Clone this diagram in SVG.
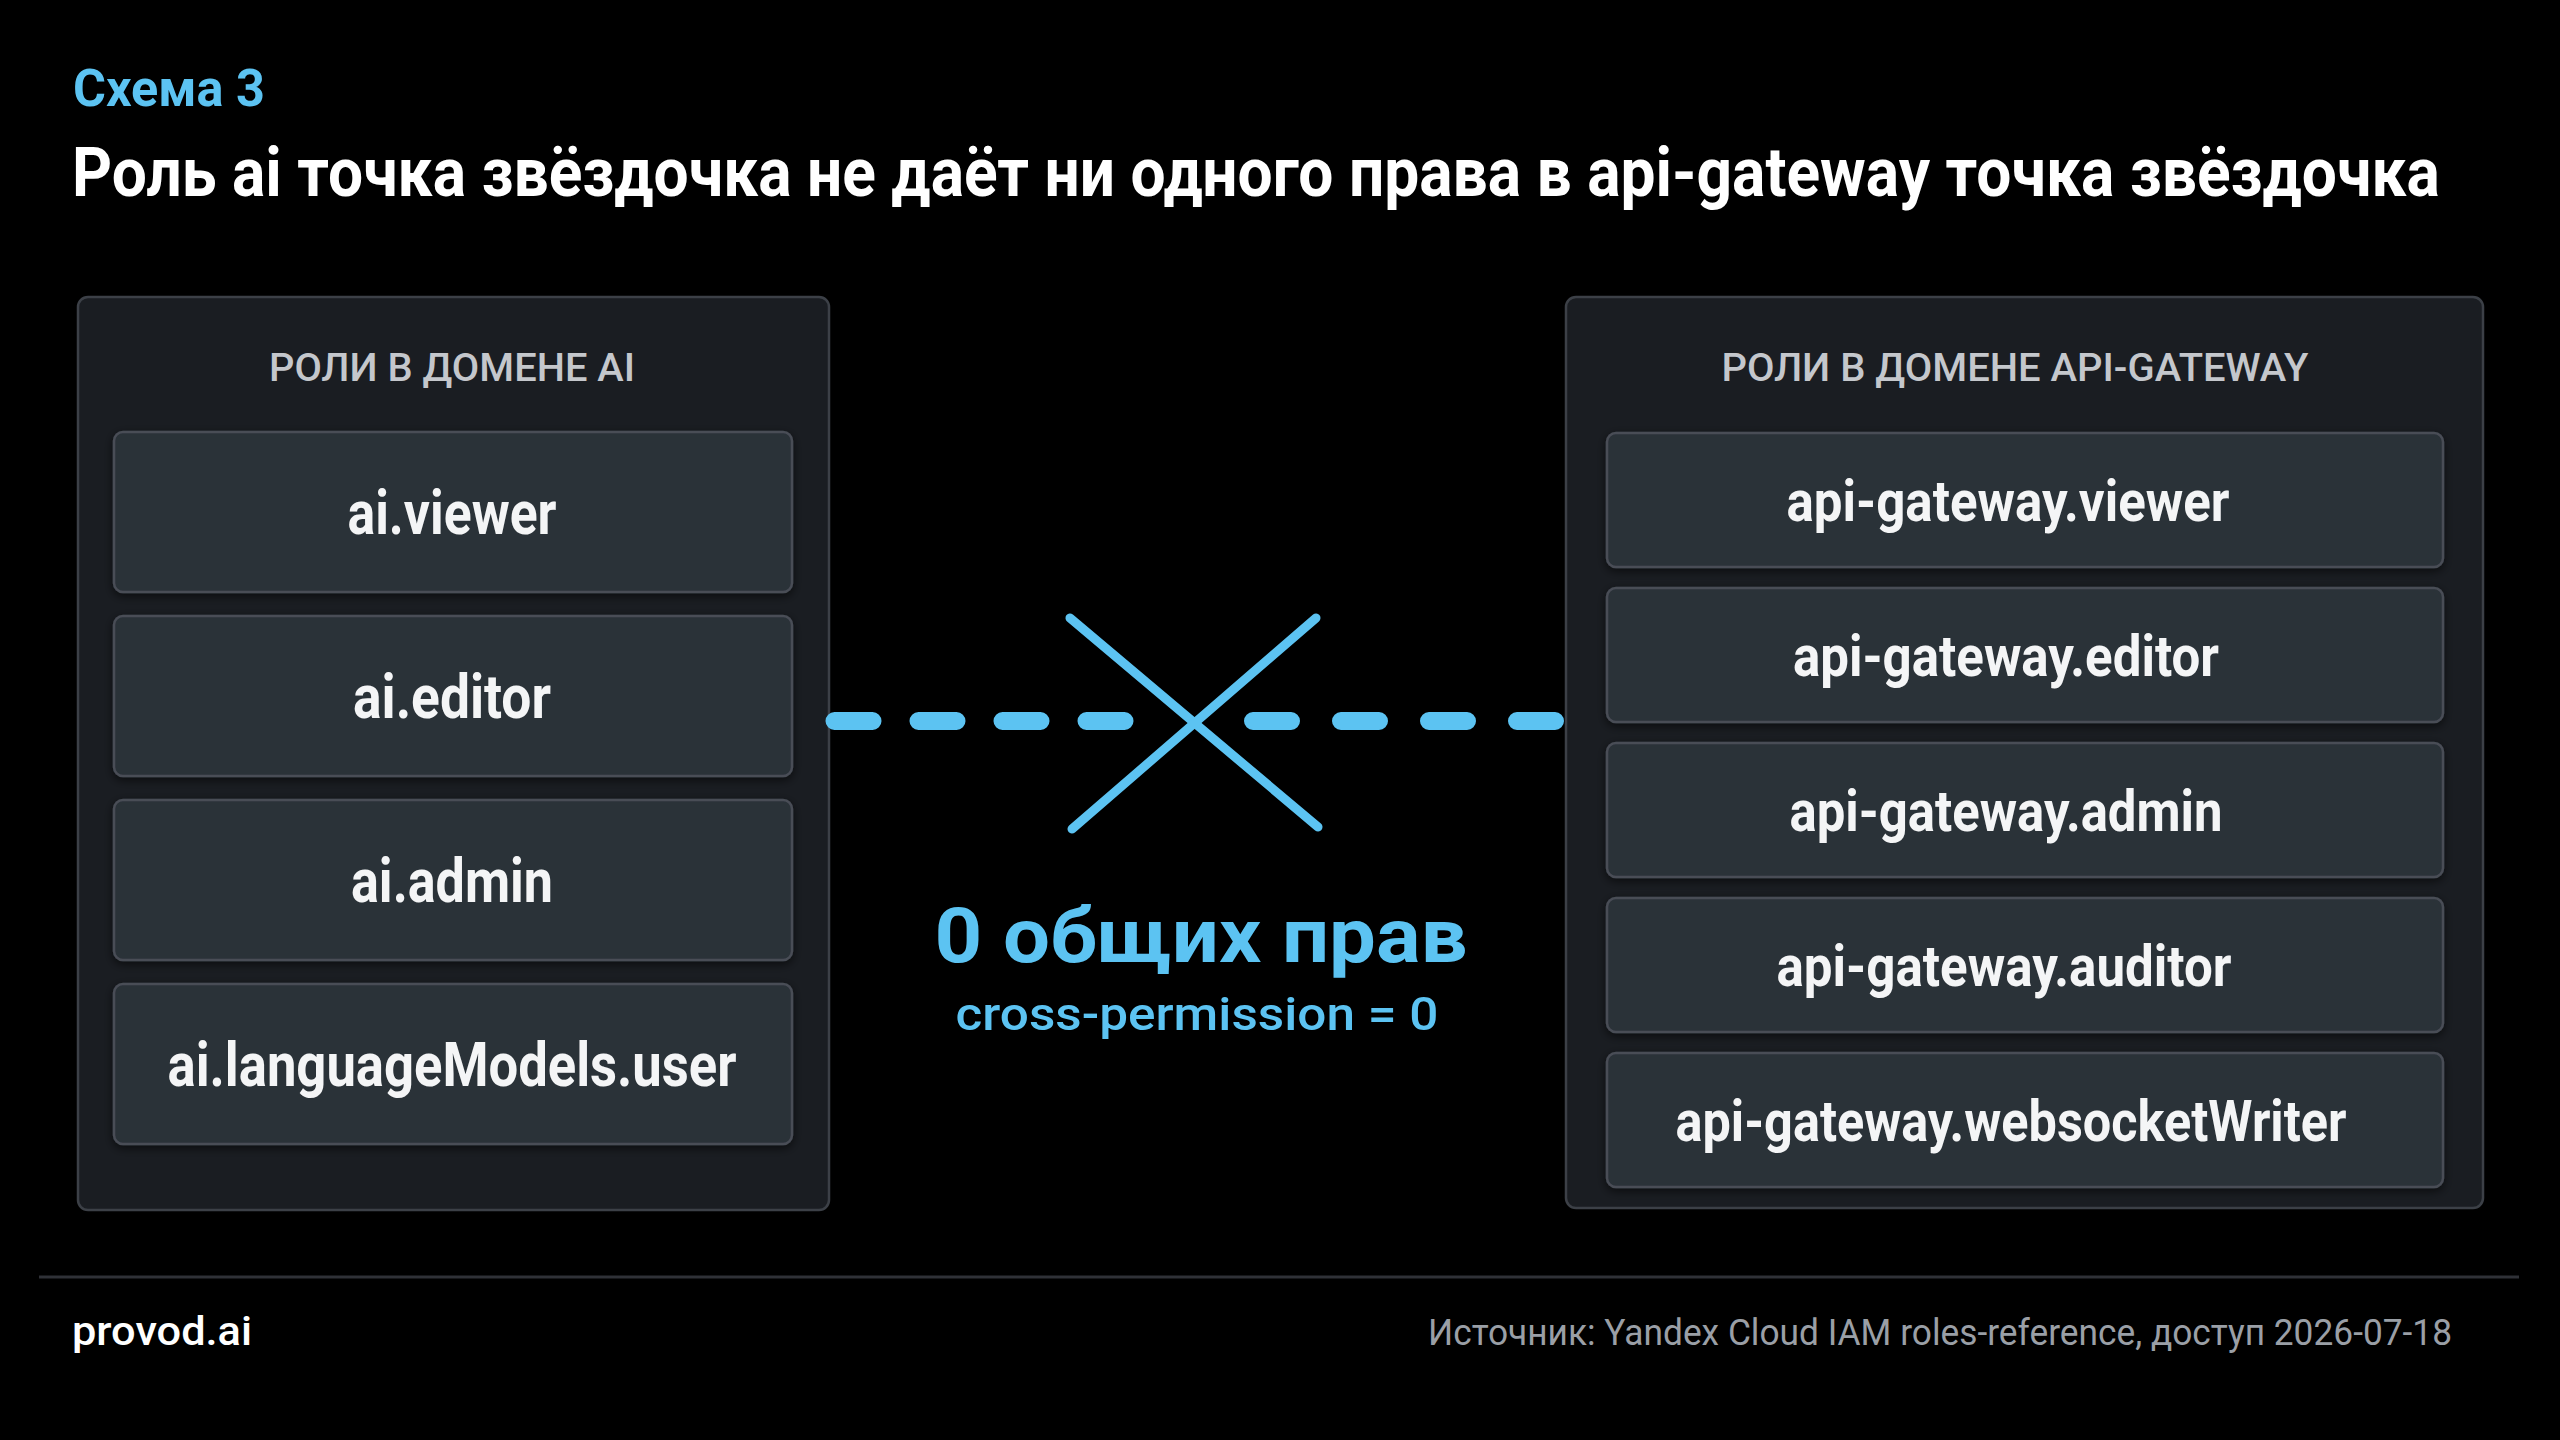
<svg xmlns="http://www.w3.org/2000/svg" width="2560" height="1440" viewBox="0 0 2560 1440">
<defs>
<style>
text{font-family:Roboto,"Liberation Sans","Noto Sans",sans-serif;}
.panel{fill:#1a1d22;stroke:#3c4047;stroke-width:2.5;}
.box{fill:#2b3039;stroke:#484d56;stroke-width:2.5;}
.hdr{font-size:38px;font-weight:500;fill:#c4c7cc;text-anchor:middle;}
.litem{font-size:62px;font-weight:700;fill:#f4f5f6;text-anchor:middle;}
.ritem{font-size:57px;font-weight:700;fill:#f4f5f6;text-anchor:middle;}
.blue{fill:#5cc3f2;}
.dash{stroke:#5cc3f2;stroke-width:18;stroke-linecap:round;fill:none;}
.cross{stroke:#5cc3f2;stroke-width:9;stroke-linecap:round;fill:none;}
</style>
<filter id="sh" x="-10%" y="-20%" width="120%" height="140%">
<feDropShadow dx="0" dy="3" stdDeviation="5" flood-color="#000" flood-opacity="0.6"/>
</filter>
</defs>
<rect width="2560" height="1440" fill="#000"/>

<g id="header">
<text x="73" y="106" font-size="52" font-weight="700" class="blue" textLength="192" lengthAdjust="spacingAndGlyphs">Схема 3</text>
<text transform="translate(72,196) scale(0.916,1)" x="0" y="0" font-size="68" font-weight="700" fill="#ffffff">Роль ai точка звёздочка не даёт ни одного права в api-gateway точка звёздочка</text>
</g>

<g id="panel-ai">
<rect class="panel" x="78" y="297" width="751" height="913" rx="10"/>
<text class="hdr" x="452" y="381" textLength="366" lengthAdjust="spacingAndGlyphs">РОЛИ В ДОМЕНЕ AI</text>
</g>
<g id="ai-viewer"><rect class="box" filter="url(#sh)" x="114" y="432" width="678" height="160" rx="9"/><text class="litem" x="452" y="534" textLength="209" lengthAdjust="spacingAndGlyphs">ai.viewer</text></g>
<g id="ai-editor"><rect class="box" filter="url(#sh)" x="114" y="616" width="678" height="160" rx="9"/><text class="litem" x="452" y="718" textLength="198" lengthAdjust="spacingAndGlyphs">ai.editor</text></g>
<g id="ai-admin"><rect class="box" filter="url(#sh)" x="114" y="800" width="678" height="160" rx="9"/><text class="litem" x="452" y="902" textLength="202" lengthAdjust="spacingAndGlyphs">ai.admin</text></g>
<g id="ai-languageModels-user"><rect class="box" filter="url(#sh)" x="114" y="984" width="678" height="160" rx="9"/><text class="litem" x="452" y="1086" textLength="569" lengthAdjust="spacingAndGlyphs">ai.languageModels.user</text></g>

<g id="panel-api-gateway">
<rect class="panel" x="1566" y="297" width="917" height="911" rx="10"/>
<text class="hdr" x="2015" y="381" textLength="587" lengthAdjust="spacingAndGlyphs">РОЛИ В ДОМЕНЕ API-GATEWAY</text>
</g>
<g id="api-gateway-viewer"><rect class="box" filter="url(#sh)" x="1607" y="433" width="836" height="134" rx="9"/><text class="ritem" x="2008" y="521" textLength="443" lengthAdjust="spacingAndGlyphs">api-gateway.viewer</text></g>
<g id="api-gateway-editor"><rect class="box" filter="url(#sh)" x="1607" y="588" width="836" height="134" rx="9"/><text class="ritem" x="2006" y="676" textLength="426" lengthAdjust="spacingAndGlyphs">api-gateway.editor</text></g>
<g id="api-gateway-admin"><rect class="box" filter="url(#sh)" x="1607" y="743" width="836" height="134" rx="9"/><text class="ritem" x="2006" y="831" textLength="433" lengthAdjust="spacingAndGlyphs">api-gateway.admin</text></g>
<g id="api-gateway-auditor"><rect class="box" filter="url(#sh)" x="1607" y="898" width="836" height="134" rx="9"/><text class="ritem" x="2004" y="986" textLength="455" lengthAdjust="spacingAndGlyphs">api-gateway.auditor</text></g>
<g id="api-gateway-websocketWriter"><rect class="box" filter="url(#sh)" x="1607" y="1053" width="836" height="134" rx="9"/><text class="ritem" x="2011" y="1141" textLength="671" lengthAdjust="spacingAndGlyphs">api-gateway.websocketWriter</text></g>

<g id="connectors">
<line class="dash" x1="834.5" y1="721" x2="1125" y2="721" stroke-dasharray="38 46"/>
<line class="dash" x1="1253" y1="721" x2="1556" y2="721" stroke-dasharray="38 50"/>
<line class="cross" x1="1070" y1="618" x2="1318" y2="827"/>
<line class="cross" x1="1316" y1="618" x2="1072" y2="829"/>
</g>

<g id="label-zero">
<text x="1201" y="962" font-size="76" font-weight="700" class="blue" text-anchor="middle" textLength="533" lengthAdjust="spacingAndGlyphs">0 общих прав</text>
<text x="1197" y="1030" font-size="46" font-weight="500" class="blue" text-anchor="middle" textLength="483" lengthAdjust="spacingAndGlyphs">cross-permission = 0</text>
</g>

<g id="footer">
<line x1="39" y1="1277" x2="2519" y2="1277" stroke="#2f3137" stroke-width="3"/>
<text x="72" y="1345" font-size="40" font-weight="500" fill="#ffffff" textLength="180" lengthAdjust="spacingAndGlyphs">provod.ai</text>
<text x="2452" y="1345" font-size="36" fill="#9a9fa6" text-anchor="end" textLength="1024" lengthAdjust="spacingAndGlyphs">Источник: Yandex Cloud IAM roles-reference, доступ 2026-07-18</text>
</g>
</svg>
